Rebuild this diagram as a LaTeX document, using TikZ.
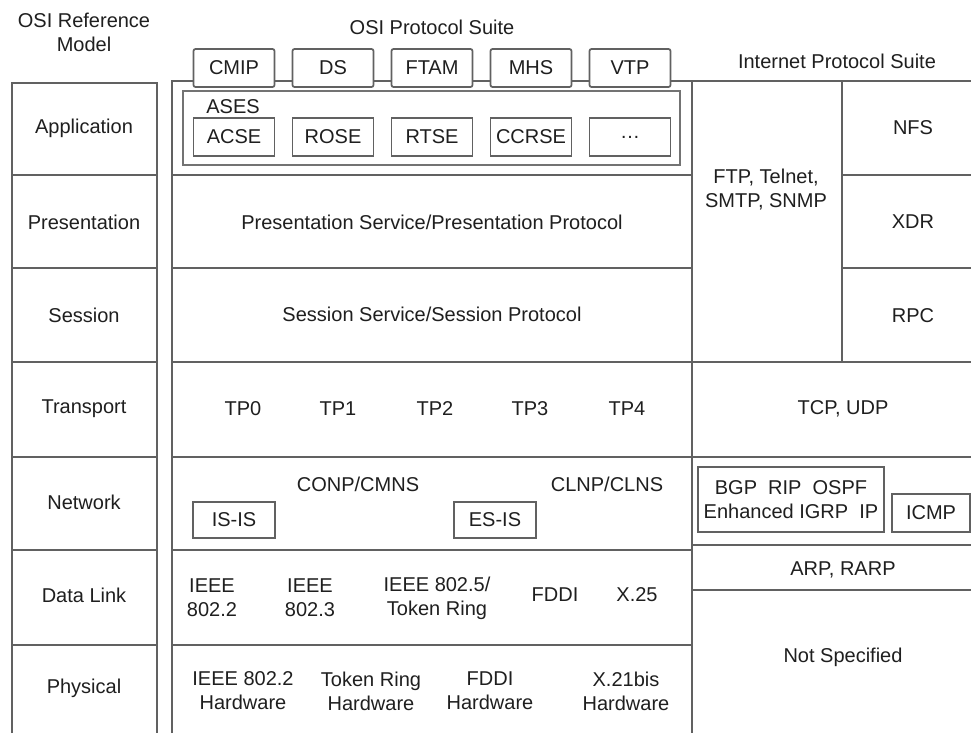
\documentclass[tikz,border=0pt]{standalone}
\usepackage{fontspec}
\setmainfont{Liberation Sans}
\begin{document}
\begin{tikzpicture}[x=0.75pt,y=-0.75pt,
  grid/.style={draw=black!62, line width=1.3pt},
  lbl/.style={text=black!88, font=\fontsize{15}{18}\selectfont, inner sep=0pt, align=center},
  pbox/.style={lbl, draw=black!62, line width=1.3pt, fill=white, rounded corners=1.5pt,
    minimum width=60.75pt, minimum height=28.5pt},
  nbox/.style={lbl, draw=black!62, line width=1.2pt, fill=white,
    minimum width=61.5pt, minimum height=27pt}
]
\useasboundingbox (0,0) rectangle (971,733);
\fill[white] (0,0) rectangle (971,733);

% ---- left column: OSI reference model ----
\draw[grid] (12,733) -- (12,83) -- (157,83) -- (157,733);
\foreach \yy in {175,268,362,457,550,645} \draw[grid] (12,\yy) -- (157,\yy);

% ---- OSI protocol suite / internet suite frame ----
\draw[grid] (172,733) -- (172,81) -- (971,81);
\draw[grid] (692,81) -- (692,733);
\foreach \yy in {175,268,362,457,550,645} \draw[grid] (172,\yy) -- (692,\yy);
\draw[grid] (842,81) -- (842,362);
\foreach \yy in {175,268} \draw[grid] (842,\yy) -- (971,\yy);
\foreach \yy in {362,457,545,590} \draw[grid] (692,\yy) -- (971,\yy);

% ---- headings ----
\node[lbl] (hosi) at (84,32) {OSI Reference\\Model};
\node[lbl] (hsuite) at (432,27) {OSI Protocol Suite};
\node[lbl] (hinet) at (837,61) {Internet Protocol Suite};

% ---- layer names ----
\node[lbl] (lapp)  at (84,128) {Application};
\node[lbl] (lpres) at (84,222) {Presentation};
\node[lbl] (lsess) at (84,315) {Session};
\node[lbl] (ltran) at (84,409) {Transport};
\node[lbl] (lnet)  at (84,502) {Network};
\node[lbl] (ldl)   at (84,595) {Data Link};
\node[lbl] (lphy)  at (84,688) {Physical};

% ---- application boxes ----
\node[pbox] (cmip) at (234,68) {CMIP};
\node[pbox] (ds)   at (333,68) {DS};
\node[pbox] (ftam) at (432,68) {FTAM};
\node[pbox] (mhs)  at (531,68) {MHS};
\node[pbox] (vtp)  at (630,68) {VTP};

\node[draw=black!55, line width=1.1pt, minimum width=372.75pt, minimum height=55.5pt, inner sep=0pt] (ases) at (431.5,128) {};
\node[lbl] (aseslbl) at (233,107) {ASES};
\node[pbox, rounded corners=0pt] (acse)  at (234,137) {ACSE};
\node[pbox, rounded corners=0pt] (rose)  at (333,137) {ROSE};
\node[pbox, rounded corners=0pt] (rtse)  at (432,137) {RTSE};
\node[pbox, rounded corners=0pt] (ccrse) at (531,137) {CCRSE};
\node[pbox, rounded corners=0pt] (etc)   at (630,137) {\ldots};

% ---- internet application ----
\node[lbl] (ftp) at (766,190) {FTP, Telnet,\\SMTP, SNMP};
\node[lbl] (nfs) at (913,128) {NFS};
\node[lbl] (xdr) at (913,222) {XDR};
\node[lbl] (rpc) at (913,316) {RPC};

% ---- presentation / session ----
\node[lbl] (pres) at (432,222) {Presentation Service/Presentation Protocol};
\node[lbl] (sess) at (432,314) {Session Service/Session Protocol};

% ---- transport ----
\node[lbl] (tp0) at (243,409) {TP0};
\node[lbl] (tp1) at (338,409) {TP1};
\node[lbl] (tp2) at (435,409) {TP2};
\node[lbl] (tp3) at (530,409) {TP3};
\node[lbl] (tp4) at (627,409) {TP4};
\node[lbl] (tcp) at (843,409) {TCP, UDP};

% ---- network ----
\node[lbl] (conp) at (358,484) {CONP/CMNS};
\node[lbl] (clnp) at (607,484) {CLNP/CLNS};
\node[nbox] (isis) at (234,520) {IS-IS};
\node[nbox] (esis) at (495,520) {ES-IS};
\node[nbox, minimum width=139.5pt, minimum height=48.75pt] (bgp) at (791,499.5) {BGP\ \ RIP\ \ OSPF\\Enhanced IGRP\ \ IP};
\node[nbox, minimum width=58.5pt, minimum height=28.5pt] (icmp) at (931,513) {ICMP};

% ---- data link ----
\node[lbl] (ieee2) at (212,598) {IEEE\\802.2};
\node[lbl] (ieee3) at (310,598) {IEEE\\802.3};
\node[lbl] (ieee5) at (437,598) {IEEE 802.5/\\Token Ring};
\node[lbl] (fddi)  at (555,595) {FDDI};
\node[lbl] (x25)   at (637,595) {X.25};
\node[lbl] (arp)   at (843,570) {ARP, RARP};

% ---- physical ----
\node[lbl] (hw1) at (243,691) {IEEE 802.2\\Hardware};
\node[lbl] (hw2) at (371,691) {Token Ring\\Hardware};
\node[lbl] (hw3) at (490,691) {FDDI\\Hardware};
\node[lbl] (hw4) at (626,691) {X.21bis\\Hardware};
\node[lbl] (nspec) at (843,657) {Not Specified};
\end{tikzpicture}
\end{document}
